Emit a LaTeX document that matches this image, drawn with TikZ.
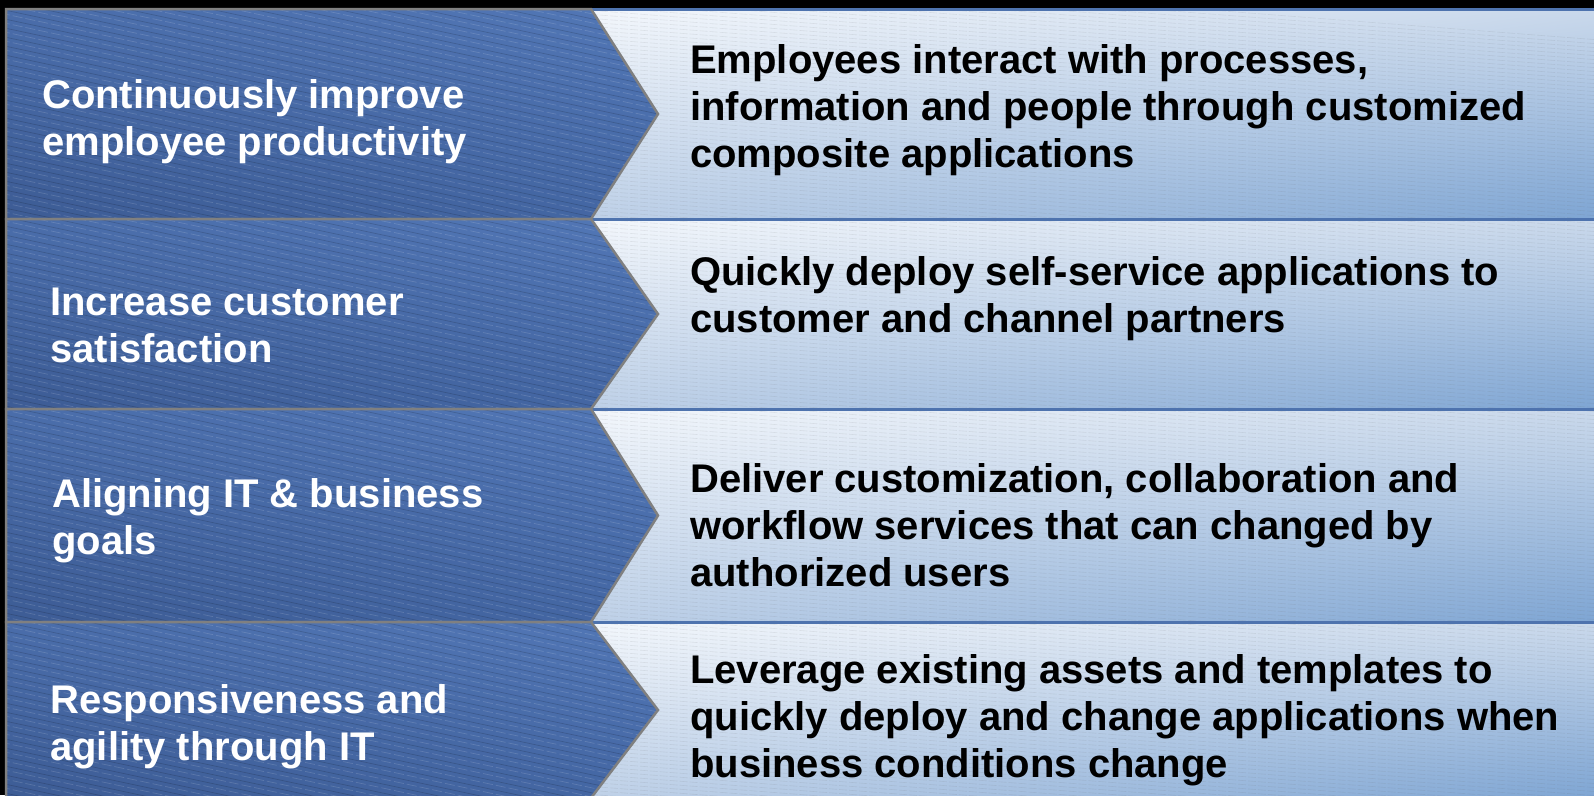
\documentclass[tikz,border=0pt]{standalone}
\usepackage{fontspec}
\setmainfont{Liberation Sans}
\usetikzlibrary{shadings}
\definecolor{rUL}{HTML}{F3F7FC}
\definecolor{rUR}{HTML}{C9D8EB}
\definecolor{rLL}{HTML}{BFD1E8}
\definecolor{rLR}{HTML}{7EA5D3}
\definecolor{lUL}{HTML}{4A6DAA}
\definecolor{lUR}{HTML}{5277B6}
\definecolor{lLL}{HTML}{3D5C95}
\definecolor{lLR}{HTML}{4467A4}
\definecolor{chevgray}{HTML}{808080}
\definecolor{rowblue}{HTML}{4E73AE}
\newcommand\twolines[2]{\vtop{\hbox{#1}\hbox{#2}}}
\newcommand\threelines[3]{\vtop{\hbox{#1}\hbox{#2}\hbox{#3}}}
\begin{document}
\begin{tikzpicture}[x=1pt,y=-1pt,
  lefttext/.style={anchor=base west, inner sep=0pt, text=white, font=\bfseries\fontsize{40}{47}\selectfont},
  righttext/.style={anchor=base west, inner sep=0pt, text=black, font=\bfseries\fontsize{40}{47}\selectfont},
  chevline/.style={draw=chevgray, line width=2.5pt, line join=miter},
  rightline/.style={draw=rowblue, line width=3pt},
  rightfill/.style={upper left=rUL, upper right=rUR, lower left=rLL, lower right=rLR},
  leftfill/.style={upper left=lUL, upper right=lUR, lower left=lLL, lower right=lLR},
  hatchdark/.style={black, opacity=0.16, line width=0.7pt},
  hatchlight/.style={white, opacity=0.14, line width=0.7pt, dash pattern=on 10pt off 3pt},
  hatchright/.style={black!60, opacity=0.12, line width=0.6pt, dash pattern=on 8pt off 2pt}]
\fill[black] (0,0) rectangle (1594,795);
\useasboundingbox (0,0) rectangle (1594,795);
% right boxes
\foreach \t/\b in {9/219, 219/409, 409/622, 622/798} {
  \shade[rightfill] (590,\t) rectangle (1600,\b);
}
\begin{scope}
  \clip (590,9) rectangle (1594,795);
  \foreach \k in {0,...,220} \draw[hatchright] (560,\k*4-40) -- (1600,\k*4+40);
\end{scope}
\foreach \t/\b in {9/219, 219/409, 409/622, 622/798} {
  \draw[rightline] (590,\t) -- (1600,\t) (590,\b) -- (1600,\b);
}
% left chevrons
\foreach \t/\b/\m in {9/219/114, 219/409/314, 409/622/515.5, 622/798/710} {
  \shade[leftfill] (6,\t) -- (591,\t) -- (658,\m) -- (591,\b) -- (6,\b) -- cycle;
  \begin{scope}
    \clip (6,\t) -- (591,\t) -- (658,\m) -- (591,\b) -- (6,\b) -- cycle;
    \foreach \k in {-20,...,90} {
      \draw[hatchdark] (0,\k*9) -- (700,\k*9+150);
      \draw[hatchlight] (0,\k*9+4) -- (700,\k*9+154);
    }
  \end{scope}
  \draw[chevline] (6,\t) -- (591,\t) -- (658,\m) -- (591,\b) -- (6,\b) -- cycle;
}
% texts
\node[lefttext] (l1) at (42,108) {\twolines{Continuously improve}{employee productivity}};
\node[lefttext] (l2) at (50,315) {\twolines{Increase customer}{satisfaction}};
\node[lefttext] (l3) at (52,507) {\twolines{Aligning IT \& business}{goals}};
\node[lefttext] (l4) at (50,713) {\twolines{Responsiveness and}{agility through IT}};
\node[righttext] (r1) at (690,73) {\threelines{Employees interact with processes,}{information and people through customized}{composite applications}};
\node[righttext] (r2) at (690,285) {\twolines{Quickly deploy self-service applications to}{customer and channel partners}};
\node[righttext] (r3) at (690,492) {\threelines{Deliver customization, collaboration and}{workflow services that can changed by}{authorized users}};
\node[righttext] (r4) at (690,683) {\threelines{Leverage existing assets and templates to}{quickly deploy and change applications when}{business conditions change}};
\end{tikzpicture}
\end{document}
